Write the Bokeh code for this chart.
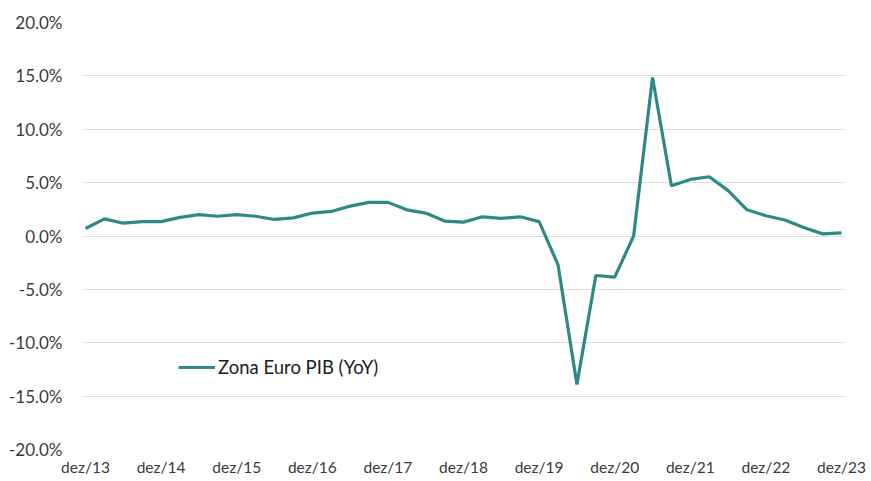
from bokeh.plotting import figure
from bokeh.models import Range1d, FixedTicker, NumeralTickFormatter, Legend, LegendItem
from bokeh.embed import file_html
from bokeh.resources import INLINE

# quarterly, dez/13 .. dez/23
quarter_index = list(range(41))
gdp_yoy = [0.7, 1.6, 1.2, 1.35, 1.35, 1.75, 2.0, 1.85, 2.0, 1.85,
           1.55, 1.7, 2.15, 2.3, 2.8, 3.15, 3.15, 2.45, 2.15, 1.4,
           1.3, 1.8, 1.65, 1.8, 1.35, -2.7, -13.9, -3.7, -3.85, 0.0,
           14.85, 4.7, 5.3, 5.55, 4.25, 2.45, 1.9, 1.5, 0.8, 0.2, 0.3]
gdp_frac = [v / 100 for v in gdp_yoy]
tick_labels = ["dez/13", "dez/14", "dez/15", "dez/16", "dez/17", "dez/18",
               "dez/19", "dez/20", "dez/21", "dez/22", "dez/23"]
tick_pos = [i * 4 for i in range(len(tick_labels))]
y_ticks = [-0.20, -0.15, -0.10, -0.05, 0.0, 0.05, 0.10, 0.15, 0.20]

FONT = "Lato"
TXT = "#3a3a3a"

p = figure(width=871, height=481, output_backend="svg", toolbar_location=None,
           x_range=Range1d(-0.16, 40.21), y_range=Range1d(-0.20, 0.20),
           min_border_left=82, min_border_right=26, min_border_top=22, min_border_bottom=32)
p.outline_line_color = None
p.background_fill_color = "white"
p.border_fill_color = "white"

r = p.line(quarter_index, gdp_frac, line_color="#2F8A86", line_width=3.2)

p.yaxis.ticker = FixedTicker(ticks=y_ticks)
p.yaxis.formatter = NumeralTickFormatter(format="0.0%")
p.yaxis.axis_line_color = None
p.yaxis.major_tick_line_color = None
p.yaxis.minor_tick_line_color = None
p.yaxis.major_label_standoff = 14
p.yaxis.major_label_text_font = FONT
p.yaxis.major_label_text_font_size = "17px"
p.yaxis.major_label_text_color = TXT

p.xaxis.ticker = FixedTicker(ticks=tick_pos)
p.xaxis.major_label_overrides = {t: l for t, l in zip(tick_pos, tick_labels)}
p.xaxis.axis_line_color = None
p.xaxis.major_tick_line_color = None
p.xaxis.minor_tick_line_color = None
p.xaxis.major_label_standoff = 2
p.xaxis.major_label_text_font = FONT
p.xaxis.major_label_text_font_size = "15.5px"
p.xaxis.major_label_text_color = TXT

p.xgrid.grid_line_color = None
p.ygrid.ticker = FixedTicker(ticks=y_ticks)
p.ygrid.grid_line_color = "#dedede"
p.ygrid.grid_line_width = 1

legend = Legend(items=[LegendItem(label="Zona Euro PIB (YoY)", renderers=[r])],
                location=(96, 71), border_line_color=None, background_fill_alpha=0,
                padding=0, margin=0, spacing=0, glyph_width=37, glyph_height=20,
                label_standoff=3, label_text_font=FONT, label_text_font_size="18.5px",
                label_text_color="#202020")
p.add_layout(legend)

open("out.html", "w").write(file_html(p, INLINE))
